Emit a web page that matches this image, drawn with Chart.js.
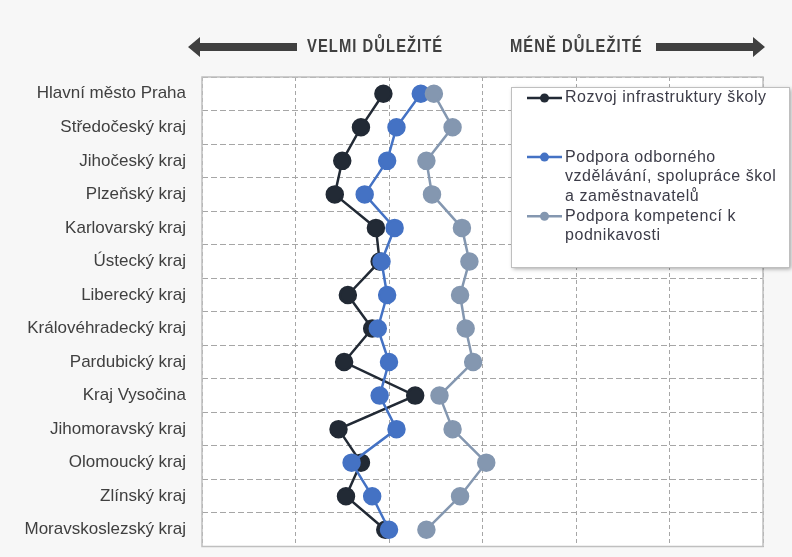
<!DOCTYPE html>
<html>
<head>
<meta charset="utf-8">
<script src="https://cdn.jsdelivr.net/npm/chart.js@4/dist/chart.umd.min.js"></script>
<style>
  body { margin: 0; background: #f7f7f7; }
  canvas { display: block; }
</style>
</head>
<body>
<canvas id="chart" width="792" height="557"></canvas>
<script>
// kraje (shora dolů)
var regions = [
  'Hlavní město Praha', 'Středočeský kraj', 'Jihočeský kraj', 'Plzeňský kraj',
  'Karlovarský kraj', 'Ústecký kraj', 'Liberecký kraj', 'Královéhradecký kraj',
  'Pardubický kraj', 'Kraj Vysočina', 'Jihomoravský kraj', 'Olomoucký kraj',
  'Zlínský kraj', 'Moravskoslezský kraj'
];

// průměrná důležitost (nižší = důležitější)
var infrastruktura = [1.97, 1.85, 1.75, 1.71, 1.93, 1.95, 1.78, 1.91, 1.76, 2.14, 1.73, 1.85, 1.77, 1.98];
var odborneVzdelavani = [2.17, 2.04, 1.99, 1.87, 2.03, 1.96, 1.99, 1.94, 2.00, 1.95, 2.04, 1.80, 1.91, 2.00];
var podnikavost = [2.24, 2.34, 2.20, 2.23, 2.39, 2.43, 2.38, 2.41, 2.45, 2.27, 2.34, 2.52, 2.38, 2.20];

var seriesNames = [
  ['Rozvoj infrastruktury školy'],
  ['Podpora odborného', 'vzdělávání, spolupráce škol', 'a zaměstnavatelů'],
  ['Podpora kompetencí k', 'podnikavosti']
];
var seriesColors = ['#222a35', '#4472c4', '#8497b0'];

var labelColor = '#404040';

// bílá plocha grafu a rámeček
var framePlugin = {
  id: 'frame',
  beforeDraw: function(chart) {
    var a = chart.chartArea, ctx = chart.ctx;
    ctx.save();
    ctx.fillStyle = '#ffffff';
    ctx.fillRect(a.left, a.top, a.right - a.left, a.bottom - a.top);
    ctx.restore();
  },
  beforeDatasetsDraw: function(chart) {
    var a = chart.chartArea, ctx = chart.ctx;
    ctx.save();
    ctx.strokeStyle = '#bfbfbf';
    ctx.lineWidth = 1.5;
    ctx.strokeRect(a.left, a.top, a.right - a.left, a.bottom - a.top);
    ctx.restore();
  }
};

function arrow(ctx, x0, x1, y, dir) {
  // dir = -1 vlevo, 1 vpravo
  var head = 12, shaft = 4, half = 10;
  ctx.beginPath();
  if (dir < 0) {
    ctx.moveTo(x0, y);
    ctx.lineTo(x0 + head, y - half);
    ctx.lineTo(x0 + head, y - shaft);
    ctx.lineTo(x1, y - shaft);
    ctx.lineTo(x1, y + shaft);
    ctx.lineTo(x0 + head, y + shaft);
    ctx.lineTo(x0 + head, y + half);
  } else {
    ctx.moveTo(x1, y);
    ctx.lineTo(x1 - head, y - half);
    ctx.lineTo(x1 - head, y - shaft);
    ctx.lineTo(x0, y - shaft);
    ctx.lineTo(x0, y + shaft);
    ctx.lineTo(x1 - head, y + shaft);
    ctx.lineTo(x1 - head, y + half);
  }
  ctx.closePath();
  ctx.fill();
}

// zúžené tučné písmo nadpisu
function narrowText(ctx, text, x, y) {
  ctx.save();
  ctx.translate(x, y);
  ctx.scale(0.82, 1);
  ctx.fillText(text, 0, 0);
  ctx.restore();
}

// šipky se směrem důležitosti a legenda v rámečku
var headerLegendPlugin = {
  id: 'headerLegend',
  afterDraw: function(chart) {
    var ctx = chart.ctx;
    ctx.save();
    ctx.fillStyle = '#404040';
    arrow(ctx, 188, 297, 47, -1);
    arrow(ctx, 656, 765, 47, 1);
    ctx.font = 'bold 18px "Liberation Sans", Arial, sans-serif';
    ctx.letterSpacing = '1.3px';
    ctx.textBaseline = 'middle';
    ctx.textAlign = 'left';
    narrowText(ctx, 'VELMI DŮLEŽITÉ', 307, 47);
    narrowText(ctx, 'MÉNĚ DŮLEŽITÉ', 510, 47);
    ctx.restore();

    // legenda
    var bx = 511, by = 87, bw = 278, bh = 180;
    ctx.save();
    ctx.shadowColor = 'rgba(0,0,0,0.35)';
    ctx.shadowBlur = 4;
    ctx.shadowOffsetX = 2;
    ctx.shadowOffsetY = 2;
    ctx.fillStyle = '#ffffff';
    ctx.fillRect(bx, by, bw, bh);
    ctx.restore();
    ctx.save();
    ctx.strokeStyle = '#bfbfbf';
    ctx.lineWidth = 1;
    ctx.strokeRect(bx + 0.5, by + 0.5, bw, bh);

    var lineH = 19.7;
    ctx.font = '16px "Liberation Sans", Arial, sans-serif';
    ctx.letterSpacing = '0.55px';
    ctx.textBaseline = 'middle';
    chart.data.datasets.forEach(function(ds, i) {
      var y0 = 98 + i * 3 * lineH;
      ctx.strokeStyle = ds.borderColor;
      ctx.lineWidth = 2.5;
      ctx.beginPath();
      ctx.moveTo(527, y0);
      ctx.lineTo(562, y0);
      ctx.stroke();
      ctx.fillStyle = ds.borderColor;
      ctx.beginPath();
      ctx.arc(544.5, y0, 4.5, 0, Math.PI * 2);
      ctx.fill();
      ctx.fillStyle = '#3c3c48';
      seriesNames[i].forEach(function(t, k) {
        ctx.fillText(t, 565, y0 + k * lineH);
      });
    });
    ctx.restore();
  }
};

function makeSet(idx, values, order) {
  return {
    label: seriesNames[idx].join(' '),
    data: values,
    borderColor: seriesColors[idx],
    backgroundColor: seriesColors[idx],
    pointBackgroundColor: seriesColors[idx],
    pointBorderColor: seriesColors[idx],
    borderWidth: 2.5,
    pointRadius: 8,
    pointHoverRadius: 8,
    tension: 0,
    order: order
  };
}

var ctx = document.getElementById('chart').getContext('2d');
var chart = new Chart(ctx, {
  type: 'line',
  data: {
    labels: regions,
    datasets: [
      makeSet(0, infrastruktura, 3),
      makeSet(1, odborneVzdelavani, 2),
      makeSet(2, podnikavost, 1)
    ]
  },
  plugins: [framePlugin, headerLegendPlugin],
  options: {
    indexAxis: 'y',
    responsive: false,
    devicePixelRatio: 1,
    animation: false,
    layout: { padding: { top: 77, right: 29, bottom: 10, left: 0 } },
    plugins: {
      legend: { display: false },
      tooltip: { enabled: false },
      title: { display: false }
    },
    scales: {
      x: {
        type: 'linear',
        min: 1,
        max: 4,
        ticks: { display: false, stepSize: 0.5 },
        border: { display: false, dash: [4, 3] },
        grid: {
          color: '#a6a6a6',
          lineWidth: 1,
          drawTicks: false
        },
        afterFit: function(scale) { scale.height = 0; }
      },
      y: {
        type: 'category',
        offset: true,
        ticks: {
          color: labelColor,
          font: { family: '"Liberation Sans", Arial, sans-serif', size: 17 },
          padding: 16,
          autoSkip: false
        },
        border: { display: false, dash: [6, 3] },
        grid: {
          offset: true,
          color: '#a6a6a6',
          lineWidth: 1,
          drawTicks: false
        },
        afterFit: function(scale) {
          scale.width = 202;
          scale.paddingTop = 0;
          scale.paddingBottom = 0;
        }
      }
    }
  }
});
</script>
</body>
</html>
